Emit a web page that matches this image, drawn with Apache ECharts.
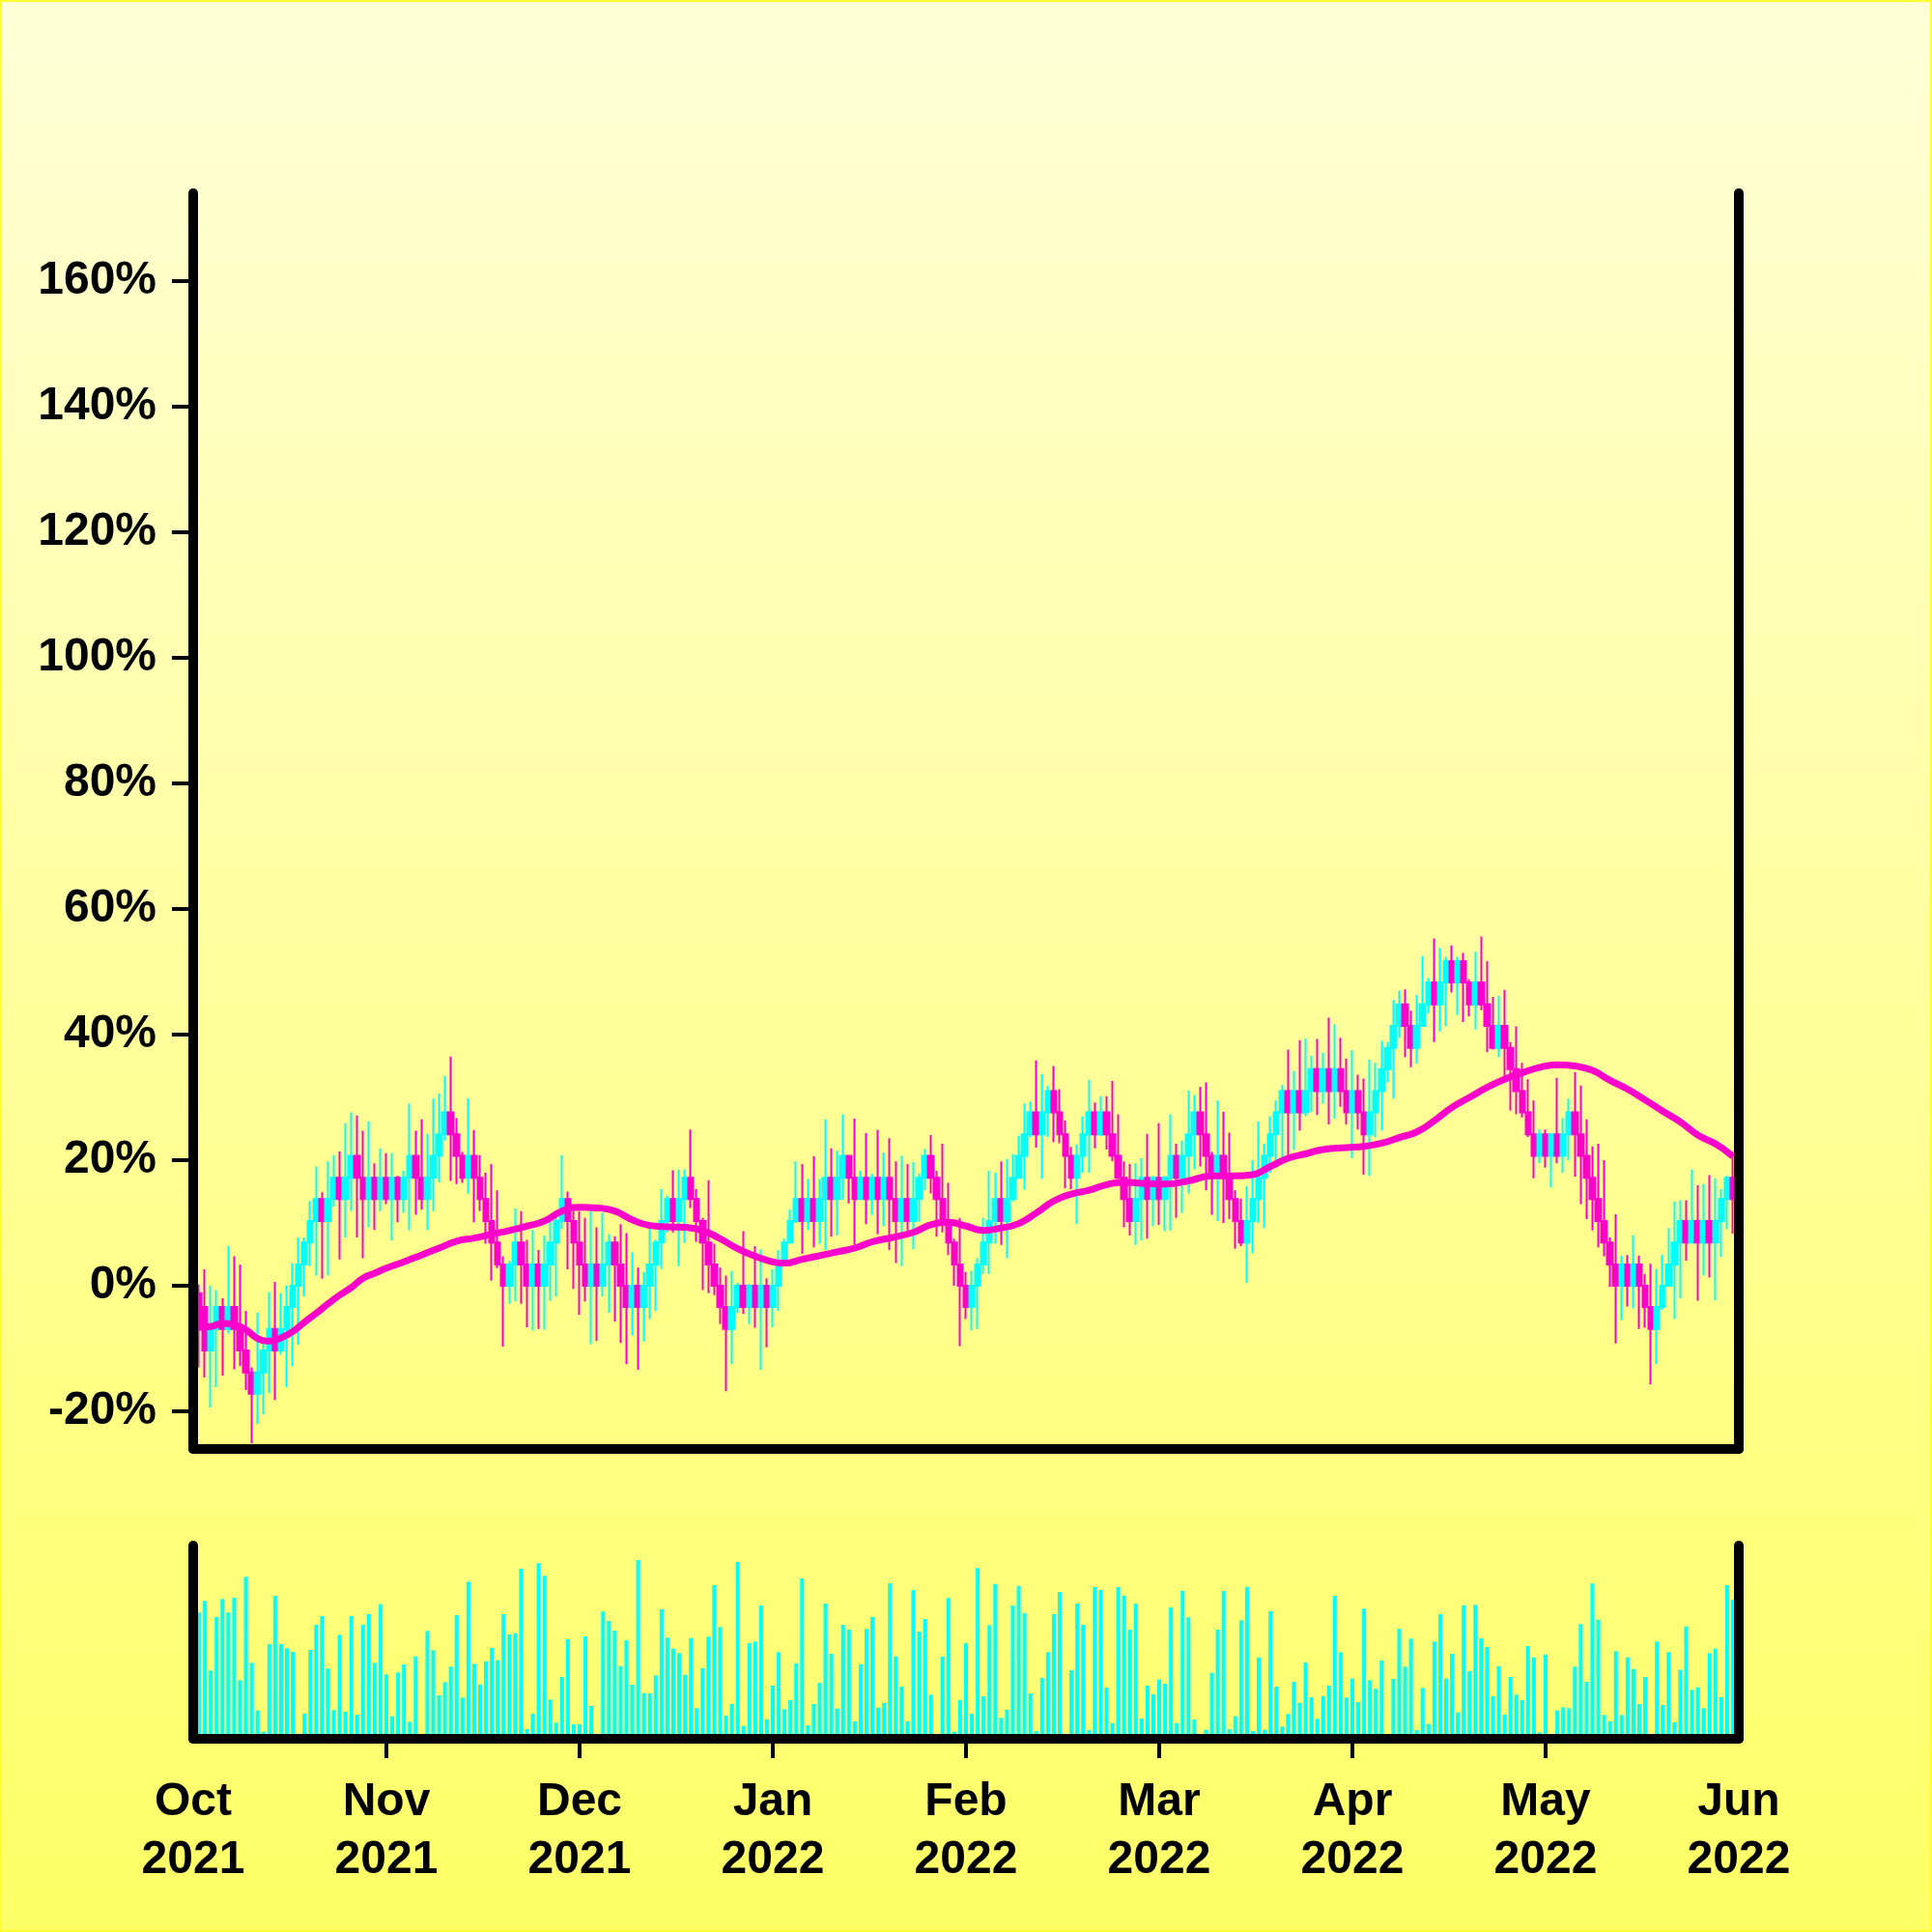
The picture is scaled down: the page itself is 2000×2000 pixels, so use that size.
<!DOCTYPE html>
<html>
<head>
<meta charset="utf-8">
<script src="https://cdn.jsdelivr.net/npm/echarts/dist/echarts.min.js"></script>
<style>
html,body{margin:0;padding:0;background:#ffffd8;}
#chart{width:2000px;height:2000px;}
</style>
</head>
<body>
<div id="chart"></div>
<script>
// ---- data (percent change) ----
const openPct = [
-1.2,-3.4,-10.3,-6.9,-3.4,-6.9,-3.4,-6.9,-10.3,-13.8,
-17.2,-13.8,-10.3,-6.9,-10.3,-6.9,-3.4,0,3.4,6.9,
10.3,13.8,10.3,13.8,17.2,13.8,17.2,20.7,17.2,13.8,
17.2,13.8,17.2,13.8,17.2,13.8,17.2,20.7,17.2,13.8,
17.2,20.7,24.1,27.6,24.1,20.7,17.2,20.7,17.2,13.8,
10.3,6.9,3.4,0,3.4,6.9,3.4,0,3.4,0,
3.4,6.9,10.3,13.8,10.3,6.9,3.4,0,3.4,0,
3.4,6.9,3.4,0,-3.4,0,-3.4,0,3.4,6.9,
10.3,13.8,10.3,13.8,17.2,13.8,10.3,6.9,3.4,0,
-3.4,-6.9,-3.4,0,-3.4,0,-3.4,0,-3.4,0,
3.4,6.9,10.3,13.8,10.3,13.8,10.3,13.8,17.2,13.8,
17.2,20.7,17.2,13.8,17.2,13.8,17.2,13.8,17.2,13.8,
10.3,13.8,10.3,13.8,17.2,20.7,17.2,13.8,10.3,6.9,
3.4,0,-3.4,0,3.4,6.9,10.3,13.8,10.3,13.8,
17.2,20.7,24.1,27.6,24.1,27.6,31,27.6,24.1,20.7,
17.2,20.7,24.1,27.6,24.1,27.6,24.1,20.7,17.2,13.8,
10.3,13.8,17.2,13.8,17.2,13.8,17.2,20.7,17.2,20.7,
24.1,27.6,24.1,20.7,17.2,20.7,17.2,13.8,10.3,6.9,
10.3,13.8,17.2,20.7,24.1,27.6,31,27.6,31,27.6,
31,34.5,31,34.5,31,34.5,31,27.6,31,27.6,
24.1,27.6,31,34.5,37.9,41.4,44.8,41.4,37.9,41.4,
44.8,48.3,44.8,48.3,51.7,48.3,51.7,48.3,44.8,48.3,
44.8,41.4,37.9,41.4,37.9,34.5,31,27.6,24.1,20.7,
24.1,20.7,24.1,20.7,24.1,27.6,24.1,20.7,17.2,13.8,
10.3,6.9,3.4,0,3.4,0,3.4,0,-3.4,-6.9,
-3.4,0,3.4,6.9,10.3,6.9,10.3,6.9,10.3,6.9,
10.3,13.8,17.2
];
const closePct = [
-6.9,-10.3,-6.9,-3.4,-6.9,-3.4,-6.9,-10.3,-13.8,-17.2,
-13.8,-10.3,-6.9,-10.3,-6.9,-3.4,0,3.4,6.9,10.3,
13.8,10.3,13.8,17.2,13.8,17.2,20.7,17.2,13.8,17.2,
13.8,17.2,13.8,17.2,13.8,17.2,20.7,17.2,13.8,17.2,
20.7,24.1,27.6,24.1,20.7,17.2,20.7,17.2,13.8,10.3,
6.9,3.4,0,3.4,6.9,3.4,0,3.4,0,3.4,
6.9,10.3,13.8,10.3,6.9,3.4,0,3.4,0,3.4,
6.9,3.4,0,-3.4,0,-3.4,0,3.4,6.9,10.3,
13.8,10.3,13.8,17.2,13.8,10.3,6.9,3.4,0,-3.4,
-6.9,-3.4,0,-3.4,0,-3.4,0,-3.4,0,3.4,
6.9,10.3,13.8,10.3,13.8,10.3,13.8,17.2,13.8,17.2,
20.7,17.2,13.8,17.2,13.8,17.2,13.8,17.2,13.8,10.3,
13.8,10.3,13.8,17.2,20.7,17.2,13.8,10.3,6.9,3.4,
0,-3.4,0,3.4,6.9,10.3,13.8,10.3,13.8,17.2,
20.7,24.1,27.6,24.1,27.6,31,27.6,24.1,20.7,17.2,
20.7,24.1,27.6,24.1,27.6,24.1,20.7,17.2,13.8,10.3,
13.8,17.2,13.8,17.2,13.8,17.2,20.7,17.2,20.7,24.1,
27.6,24.1,20.7,17.2,20.7,17.2,13.8,10.3,6.9,10.3,
13.8,17.2,20.7,24.1,27.6,31,27.6,31,27.6,31,
34.5,31,34.5,31,34.5,31,27.6,31,27.6,24.1,
27.6,31,34.5,37.9,41.4,44.8,41.4,37.9,41.4,44.8,
48.3,44.8,48.3,51.7,48.3,51.7,48.3,44.8,48.3,44.8,
41.4,37.9,41.4,37.9,34.5,31,27.6,24.1,20.7,24.1,
20.7,24.1,20.7,24.1,27.6,24.1,20.7,17.2,13.8,10.3,
6.9,3.4,0,3.4,0,3.4,0,-3.4,-6.9,-3.4,
0,3.4,6.9,10.3,6.9,10.3,6.9,10.3,6.9,10.3,
13.8,17.2,13.8
];
const highPct = [
0.2,2.6,0.0,-0.7,-2.0,6.3,4.7,3.4,-4.0,-13.0,
-4.3,-8.7,-1.0,0.6,-1.2,0.0,3.6,7.7,7.7,13.5,
19.0,14.9,19.8,20.8,21.4,25.9,27.6,27.1,24.7,26.2,
19.5,21.9,21.1,21.1,17.5,18.3,29.0,24.7,26.5,24.2,
29.8,30.6,33.4,36.5,26.7,21.3,29.9,24.8,20.8,18.0,
19.4,15.2,4.7,4.0,12.3,11.9,7.3,8.9,5.7,8.0,
10.1,10.8,20.8,15.0,11.9,11.9,10.8,11.9,9.3,11.6,
8.2,7.9,9.8,8.4,5.3,2.9,2.2,9.4,7.3,15.4,
14.4,18.4,18.5,18.5,24.9,15.4,10.8,16.8,6.7,2.9,
1.6,2.4,0.5,8.7,0.3,6.3,5.8,1.2,2.6,5.7,
7.5,12.1,19.8,19.4,17.0,20.6,17.0,26.5,21.9,21.5,
27.3,20.6,26.6,18.3,24.3,17.8,24.8,21.2,23.5,19.8,
20.7,19.4,19.7,17.9,21.8,24.0,18.3,22.6,16.4,7.5,
10.8,2.2,2.4,4.4,10.8,18.3,18.0,19.8,20.2,21.0,
23.9,29.0,29.3,35.9,33.7,31.9,35.0,31.3,26.3,22.1,
22.5,27.0,32.8,29.2,30.2,30.2,32.6,27.3,19.8,19.4,
19.5,20.3,24.2,17.5,25.9,17.5,27.3,22.6,23.1,31.1,
30.4,31.7,32.4,21.3,29.5,27.7,24.4,15.2,13.9,15.9,
20.0,26.2,22.6,27.0,29.5,32.0,37.6,34.2,39.1,39.4,
36.6,39.3,37.1,42.7,41.6,39.5,36.2,37.5,33.6,33.0,
36.0,35.5,39.0,38.8,45.5,47.0,47.2,43.8,46.3,52.5,
49.0,55.3,53.8,52.4,54.2,52.4,53.0,48.8,53.2,55.6,
51.7,46.0,46.2,47.1,38.8,41.3,35.5,32.9,29.5,24.9,
24.9,24.3,33.1,26.7,29.8,34.0,31.9,26.5,22.2,22.6,
20.0,7.7,11.4,4.8,4.9,8.0,4.8,1.9,3.5,2.7,
4.9,9.2,13.4,13.6,13.6,18.5,16.0,16.2,17.6,17.1,
15.4,17.5,21.3
];
const lowPct = [
-13.0,-14.6,-19.4,-16.1,-14.3,-7.6,-13.3,-12.8,-16.6,-25.1,
-22.0,-20.5,-17.1,-18.2,-11.0,-16.1,-12.8,-9.4,-1.7,3.1,
1.6,1.1,1.6,12.6,4.2,7.7,11.9,7.7,4.4,9.3,
8.9,11.9,13.0,7.2,10.1,11.6,8.9,11.3,12.1,8.9,
11.9,16.5,23.1,16.7,16.2,16.4,14.7,10.1,11.9,6.7,
0.8,2.8,-9.7,-2.9,-2.5,-2.9,-6.6,-7.1,-6.9,-7.0,
-2.4,-1.7,9.0,2.6,-0.5,-4.6,-2.5,-9.3,-8.8,-1.7,
-4.3,-5.7,-9.1,-12.5,-7.9,-13.4,-8.9,-5.3,-4.0,2.7,
8.5,8.5,3.1,6.8,12.4,7.0,-0.7,-1.2,-1.5,-6.1,
-16.8,-12.5,-4.3,-4.5,-6.1,-6.7,-13.4,-9.8,-6.6,-4.0,
3.1,6.7,10.0,5.1,8.9,6.1,6.7,5.7,7.8,8.0,
13.7,13.1,6.5,13.7,9.8,11.3,8.2,9.5,5.7,3.6,
3.1,8.8,5.8,10.2,15.2,14.7,7.8,8.5,4.9,0.0,
-9.6,-5.3,-7.1,-6.9,1.9,1.9,6.7,6.5,4.4,13.5,
17.0,15.3,23.7,22.0,17.0,23.7,22.9,22.7,15.5,15.4,
9.8,18.0,18.0,21.9,23.8,21.7,19.8,17.0,9.3,8.0,
6.5,7.2,7.5,9.5,9.7,8.7,8.8,10.8,11.6,14.7,
18.5,19.0,15.2,11.3,10.3,10.0,10.6,5.9,6.3,0.5,
5.2,10.0,9.2,18.0,19.3,20.3,20.8,21.6,24.7,27.0,
27.7,27.2,29.0,25.7,26.6,28.5,25.7,20.3,24.9,17.7,
17.5,23.6,24.7,32.4,29.8,39.5,36.4,34.8,35.4,41.3,
43.4,38.8,40.5,41.3,46.7,43.1,42.0,42.9,40.8,43.9,
37.2,37.6,36.4,33.3,27.9,27.3,26.8,23.7,17.1,19.5,
18.8,15.7,19.5,18.0,20.0,17.4,13.0,10.6,8.8,6.1,
4.7,-0.2,-9.2,-5.5,-3.3,-3.6,-6.9,-6.7,-15.7,-12.5,
-3.8,0.0,-5.3,-2.0,4.0,6.7,-2.4,1.6,1.3,-2.3,
4.6,9.0,8.3
];
const volume = [
392,428,212,378,434,392,438,182,503,236,
88,22,294,444,294,281,270,0,78,276,
354,381,218,89,323,84,381,75,354,387,
236,418,200,70,206,231,53,256,0,335,
275,135,176,224,384,128,488,233,169,241,
282,244,387,324,328,529,30,78,545,506,
122,50,192,309,45,45,318,102,0,395,
366,336,226,306,168,555,142,141,197,402,
314,280,266,199,313,95,219,317,477,347,
72,108,549,40,297,302,414,60,165,269,
92,120,234,498,42,108,174,420,264,94,
354,339,54,231,341,378,97,111,483,256,
162,54,462,333,372,137,0,255,437,22,
120,297,78,530,132,353,481,65,90,414,
475,391,141,24,189,269,387,456,0,213,
420,354,27,471,462,159,49,471,445,339,
419,63,165,138,184,171,408,49,460,377,
60,0,28,205,339,459,30,70,368,472,
24,253,28,397,162,38,77,177,112,237,
129,62,132,165,444,269,128,187,114,404,
182,155,243,0,186,342,224,311,27,158,
46,302,387,187,264,82,415,210,416,312,
285,132,225,75,192,137,120,288,253,20,
262,0,88,98,95,224,356,177,482,370,
74,54,272,74,253,217,108,192,0,302,
105,269,51,214,349,152,160,95,266,280,
129,477,432
];
// moving average, read at sampled bar positions
const maBar = [1,3,5,7,9,11,13,15,17,19,21,23,25,27,29,31,33,36,39,42,45,48,51,54,57,60,63,66,69,72,75,78,81,84,87,90,93,96,99,101,104,107,110,113,116,120,123,126,129,132,135,138,141,144,147,150,153,156,159,162,166,170,174,178,181,184,187,190,193,197,200,203,206,209,212,215,218,221,224,227,230,233,236,239,242,245,248,251,254,257,260,263];
const maPct = [-6.6,-6.5,-6.0,-6.2,-7.0,-8.4,-8.8,-8.3,-7.3,-5.8,-4.4,-2.9,-1.5,-0.3,1.2,2.0,2.8,3.8,4.9,6.0,7.1,7.6,8.2,8.8,9.5,10.3,11.9,12.5,12.4,11.9,10.5,9.6,9.4,9.3,8.8,7.5,5.9,4.7,3.8,3.6,4.2,4.8,5.4,6.0,7.0,7.8,8.5,9.7,10.1,9.5,8.8,9.2,9.9,11.6,13.5,14.6,15.2,16.1,16.5,16.3,16.2,16.7,17.5,17.5,17.7,19.0,20.3,21.0,21.7,22.0,22.2,22.7,23.6,24.5,26.3,28.4,30.0,31.6,32.9,33.9,34.8,35.2,35.0,34.3,32.7,31.3,29.6,27.8,26.1,24.0,22.6,20.6];
const monthTicks = [0,33,66,99,132,165,198,231,264];
const monthLabels = ['Oct\n2021','Nov\n2021','Dec\n2021','Jan\n2022','Feb\n2022','Mar\n2022','Apr\n2022','May\n2022','Jun\n2022'];
const yTicks = [-20,0,20,40,60,80,100,120,140,160];

// ---- styles ----
const CYAN = '#00FFFF', MAG = '#FF00CC';
const FONT = {fontFamily:'Liberation Sans', fontWeight:'bold', fontSize:48, color:'#000'};
const axisLineStyle = {show:true, onZero:false, lineStyle:{color:'#000', width:10, cap:'round'}};

const candleData = openPct.map((o,i)=>[i+1, o, closePct[i], lowPct[i], highPct[i]]);
const volData = volume.map((v,i)=>[i+1, v]);
const maData = maBar.map((b,i)=>[b, maPct[i]]);

const chart = echarts.init(document.getElementById('chart'), null, {renderer:'canvas'});
chart.setOption({
  animation:false,
  backgroundColor:{type:'linear',x:0,y:0,x2:0,y2:1,colorStops:[{offset:0,color:'#FFFFD8'},{offset:1,color:'#FFFF66'}]},
  graphic:[{type:'rect',shape:{x:1,y:1,width:1998,height:1998},style:{fill:'none',stroke:'#FFFF30',lineWidth:2},silent:true}],
  grid:[
    {left:200, top:200, width:1600, height:1300, containLabel:false},
    {left:200, top:1600, width:1600, height:200, containLabel:false}
  ],
  xAxis:[
    {gridIndex:0, type:'value', min:0, max:264, z:10, axisLine:axisLineStyle, axisTick:{show:false}, axisLabel:{show:false}, splitLine:{show:false}},
    {gridIndex:1, type:'value', min:0, max:264, z:10, axisLine:axisLineStyle,
     axisTick:{show:true, customValues:monthTicks.slice(1,-1), length:20, lineStyle:{color:'#000', width:4}},
     axisLabel:Object.assign({show:true, customValues:monthTicks, margin:36, lineHeight:60, align:'center',
       formatter:(v)=>monthLabels[monthTicks.indexOf(v)]}, FONT),
     splitLine:{show:false}}
  ],
  yAxis:[
    {gridIndex:0, type:'value', min:-26, max:174, position:'left', z:10, axisLine:axisLineStyle,
     axisTick:{show:true, customValues:yTicks, length:22, lineStyle:{color:'#000', width:4}},
     axisLabel:Object.assign({show:true, customValues:yTicks, margin:38, formatter:(v)=>v+'%'}, FONT),
     splitLine:{show:false}},
    {gridIndex:0, type:'value', min:-26, max:174, position:'right', z:10, axisLine:axisLineStyle, axisTick:{show:false}, axisLabel:{show:false}, splitLine:{show:false}},
    {gridIndex:1, type:'value', min:0, max:600, position:'left', z:10, axisLine:axisLineStyle, axisTick:{show:false}, axisLabel:{show:false}, splitLine:{show:false}},
    {gridIndex:1, type:'value', min:0, max:600, position:'right', z:10, axisLine:axisLineStyle, axisTick:{show:false}, axisLabel:{show:false}, splitLine:{show:false}}
  ],
  series:[
    {type:'candlestick', xAxisIndex:0, yAxisIndex:0, data:candleData, barWidth:6, z:2,
     itemStyle:{color:CYAN, color0:MAG, borderColor:CYAN, borderColor0:MAG, borderWidth:2}},
    {type:'line', xAxisIndex:0, yAxisIndex:0, data:maData, smooth:true, showSymbol:false, z:5,
     lineStyle:{color:MAG, width:7}},
    {type:'bar', xAxisIndex:1, yAxisIndex:2, data:volData, barWidth:4, z:2, itemStyle:{color:CYAN}}
  ]
});
</script>
</body>
</html>
